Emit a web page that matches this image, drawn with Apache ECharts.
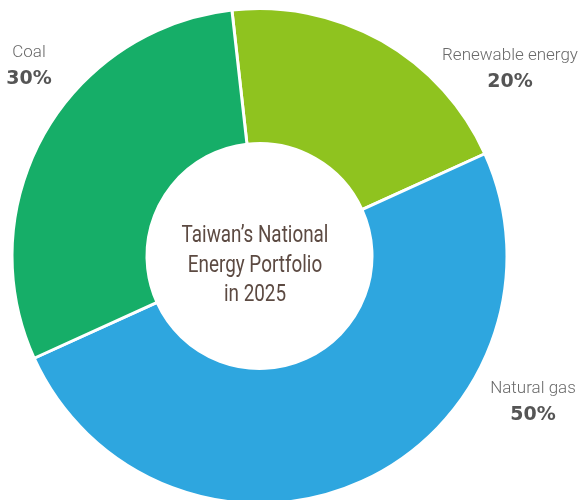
<!DOCTYPE html>
<html>
<head>
<meta charset="utf-8">
<script src="https://cdn.jsdelivr.net/npm/echarts@6/dist/echarts.min.js"></script>
<style>
html,body{margin:0;padding:0;background:#fff;}
#chart{width:584px;height:500px;}
</style>
</head>
<body>
<div id="chart"></div>
<script>
var categories = ['Renewable energy', 'Natural gas', 'Coal'];
var values = [20, 50, 30];
var colors = ['#8FC31F', '#2EA6DF', '#16AE68'];
var centerTitle = "Taiwan’s National\nEnergy Portfolio\nin 2025";

var labelSpots = [[510, 69], [533, 402], [29, 66]];

var chart = echarts.init(document.getElementById('chart'), null, {renderer: 'canvas'});
chart.setOption({
  backgroundColor: '#ffffff',
  animation: false,
  graphic: [{
    type: 'text',
    x: 255, y: 266,
    scaleX: 0.82,
    z: 100,
    style: {
      text: centerTitle,
      align: 'center',
      verticalAlign: 'middle',
      fontSize: 23,
      fontFamily: 'Roboto, sans-serif',
      lineHeight: 29.5,
      fill: '#5C4A42'
    }
  }],
  series: [{
    type: 'pie',
    center: [259.5, 256],
    radius: [112.5, 247.5],
    startAngle: 96.4,
    clockwise: true,
    avoidLabelOverlap: false,
    itemStyle: {borderColor: '#ffffff', borderWidth: 3},
    label: {
      show: true,
      position: 'outside',
      formatter: '{n|{b}}\n{p|{d}%}',
      rich: {
        n: {fontSize: 17, fontWeight: 300, fontFamily: 'Roboto, sans-serif', color: '#6A6A6A', lineHeight: 26, align: 'center'},
        p: {fontSize: 19, fontWeight: 'bold', fontFamily: '"DejaVu Sans", sans-serif', color: '#555555', lineHeight: 26, align: 'center'}
      }
    },
    labelLine: {show: false},
    labelLayout: function (p) {
      var s = labelSpots[p.dataIndex];
      return {x: s[0], y: s[1], align: 'center', verticalAlign: 'middle'};
    },
    emphasis: {disabled: true},
    data: categories.map(function (c, i) {
      return {name: c, value: values[i], itemStyle: {color: colors[i]}};
    })
  }]
});
</script>
</body>
</html>
